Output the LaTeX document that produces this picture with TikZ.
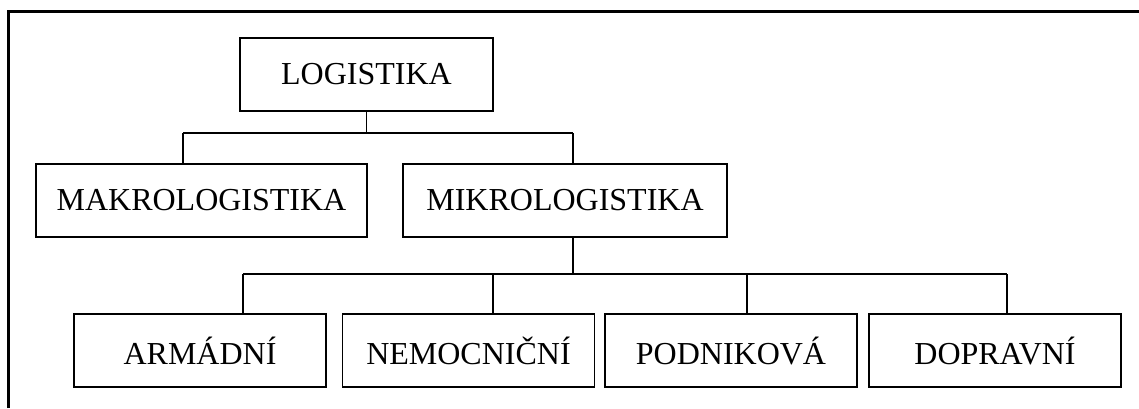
\documentclass[tikz,border=0pt]{standalone}
\usepackage{fontspec}
\setmainfont{Liberation Serif}
\usepackage{tikz}
\usetikzlibrary{positioning}
\tikzset{
  blok/.style={rectangle, draw, line width=0.65pt, minimum width=#1,
               minimum height=29.2pt, inner sep=0pt, font=\fontsize{12.8}{15}\selectfont},
  spoj/.style={line width=0.5pt},
  ramec/.style={line width=0.85pt},
}
\begin{document}
\begin{tikzpicture}[x=0.4pt, y=-0.4pt]
        \useasboundingbox (0,0) rectangle (1139,408);
        \draw[ramec] (8.5,408) -- (8.5,11.5) -- (1139,11.5);
        % prvni a druha uroven
        \node[blok=101.2pt] (logistika) at (366.5,74.5) {LOGISTIKA};
        \node[blok=132.4pt] (makro) at (201.5,200.5) {MAKROLOGISTIKA};
        \node[blok=129.6pt] (mikro) at (565,200.5) {MIKROLOGISTIKA};
        % treti uroven
        \node[blok=100.8pt] (armadni) at (200,350.5) {ARMÁDNÍ};
        \node[blok=100.8pt] (nemocnicni) at (468.5,350.5) {NEMOCNIČNÍ};
        \node[blok=100.8pt] (podnikova) at (731,350.5) {PODNIKOVÁ};
        \node[blok=100.8pt] (dopravni) at (995,350.5) {DOPRAVNÍ};
        % rozvetveni
        \coordinate (hA) at (183,133);
        \coordinate (hB) at (573,133);
        \coordinate (dA) at (243,274);
        \coordinate (dB) at (493,274);
        \coordinate (dC) at (573,274);
        \coordinate (dD) at (747,274);
        \coordinate (dE) at (1007,274);
        \draw[spoj] (logistika.south) -- (logistika.south |- hA);
        \draw[spoj] (hA) -- (hB);
        \draw[spoj] (hA) -- (hA |- makro.north);
        \draw[spoj] (hB) -- (hB |- mikro.north);
        \draw[spoj] (mikro.south -| dC) -- (dC);
        \draw[spoj] (dA) -- (dE);
        \draw[spoj] (dA) -- (dA |- armadni.north);
        \draw[spoj] (dB) -- (dB |- nemocnicni.north);
        \draw[spoj] (dD) -- (dD |- podnikova.north);
        \draw[spoj] (dE) -- (dE |- dopravni.north);
    \end{tikzpicture}
\end{document}
